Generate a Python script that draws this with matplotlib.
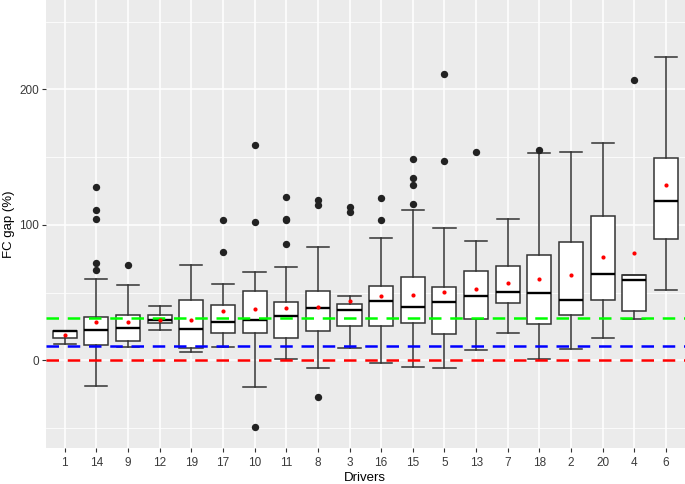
import numpy as np
import matplotlib
matplotlib.use("Agg")
import matplotlib.pyplot as plt

plt.rcParams['font.family'] = ['Liberation Sans', 'DejaVu Sans']

# Drivers, in plotting order
drivers = ['1', '14', '9', '12', '19', '17', '10', '11', '8', '3',
           '16', '15', '5', '13', '7', '18', '2', '20', '4', '6']

# box statistics (FC gap, %)
whis_lo = [12.3, -18.7, 10.0, 22.6, 6.3, 10.0, -19.5, 1.2, -5.4, 9.3,
           -1.7, -4.7, -5.4, 7.8, 20.4, 1.2, 8.6, 16.7, 30.2, 52.1]
q1 = [16.6, 11.3, 14.5, 27.5, 9.1, 20.1, 20.1, 16.5, 21.9, 25.3,
      25.3, 27.5, 19.4, 30.5, 42.5, 26.8, 33.4, 44.5, 36.4, 89.8]
med = [21.3, 22.4, 23.8, 29.7, 23.1, 28.3, 29.7, 32.7, 38.4, 36.9,
       43.5, 39.1, 42.8, 47.2, 50.2, 49.4, 44.3, 63.7, 59.0, 117.6]
q3 = [21.7, 32.2, 33.7, 33.7, 44.7, 41.0, 51.4, 42.8, 51.4, 41.8,
      55.1, 61.7, 54.3, 66.1, 69.8, 77.9, 87.5, 106.7, 62.7, 149.3]
whis_hi = [21.7, 60.0, 55.8, 40.3, 70.6, 56.5, 65.4, 69.1, 83.8, 47.7,
           90.5, 111.2, 97.9, 88.3, 104.5, 153.2, 153.7, 160.6, 62.7, 224.0]
means = [18.4, 28.3, 28.3, 30.0, 30.0, 36.2, 37.6, 38.4, 39.3, 43.5,
         47.2, 48.0, 50.2, 52.4, 56.8, 59.8, 62.7, 76.0, 79.0, 129.1]
outliers = [[], [127.9, 111.2, 104.5, 72.0, 66.9], [70.6], [], [],
            [103.8, 80.2], [159.1, 102.3, -49.0], [120.5, 104.5, 103.8, 85.8],
            [118.3, 114.4, -26.8], [112.9, 109.2], [120.0, 103.8],
            [148.6, 134.8, 129.4, 115.6], [211.3, 147.1], [154.0], [],
            [155.0], [], [], [206.9], []]

# reference lines
ref_levels = [31, 10.3, 0]
ref_colors = ['#00FF00', '#0000FF', '#FF0000']

stats = []
for i in range(len(drivers)):
    stats.append(dict(whislo=whis_lo[i], q1=q1[i], med=med[i], q3=q3[i],
                      whishi=whis_hi[i], fliers=outliers[i], label=drivers[i]))

fig = plt.figure(figsize=(6.85, 4.84), dpi=100)
ax = fig.add_axes([0.0667, 0.0744, 0.9333, 0.9256])
ax.set_facecolor('#EBEBEB')

pos = np.arange(1, len(drivers) + 1)
ax.bxp(stats, positions=pos, widths=0.76, capwidths=0.7, patch_artist=True,
       boxprops=dict(facecolor='white', edgecolor='#333333', linewidth=1.1),
       whiskerprops=dict(color='#333333', linewidth=1.1),
       capprops=dict(color='#333333', linewidth=1.1),
       medianprops=dict(color='black', linewidth=1.7),
       flierprops=dict(marker='o', markerfacecolor='#222222',
                       markeredgecolor='none', markersize=5.3),
       zorder=3)

for lev, col in zip(ref_levels, ref_colors):
    ax.axhline(lev, color=col, linewidth=1.8, linestyle=(0, (5, 3.5)), zorder=4)

ax.scatter(pos, means, color='red', s=9, zorder=5, linewidths=0)

ax.set_xlim(0.4, len(drivers) + 0.6)
ax.set_ylim(-64.7, 265.9)
ax.set_yticks([0, 100, 200])
ax.set_yticks([-50, 50, 150, 250], minor=True)
ax.set_xticks(pos)
ax.set_xticklabels(drivers)

ax.grid(which='major', color='white', linewidth=1.1, zorder=0)
ax.grid(which='minor', axis='y', color='white', linewidth=0.55, zorder=0)
ax.set_axisbelow(True)
for s in ax.spines.values():
    s.set_visible(False)

ax.tick_params(axis='both', which='major', length=3, color='#333333',
               labelsize=8.5, labelcolor='#3A3A3A', pad=2)
ax.tick_params(axis='x', which='major', pad=3.5)
ax.tick_params(axis='both', which='minor', length=0)

ax.set_xlabel('Drivers', fontsize=9.5, labelpad=2.5)
ax.set_ylabel('FC gap (%)', fontsize=9.5, labelpad=3)

fig.savefig('out.png', dpi=100)
